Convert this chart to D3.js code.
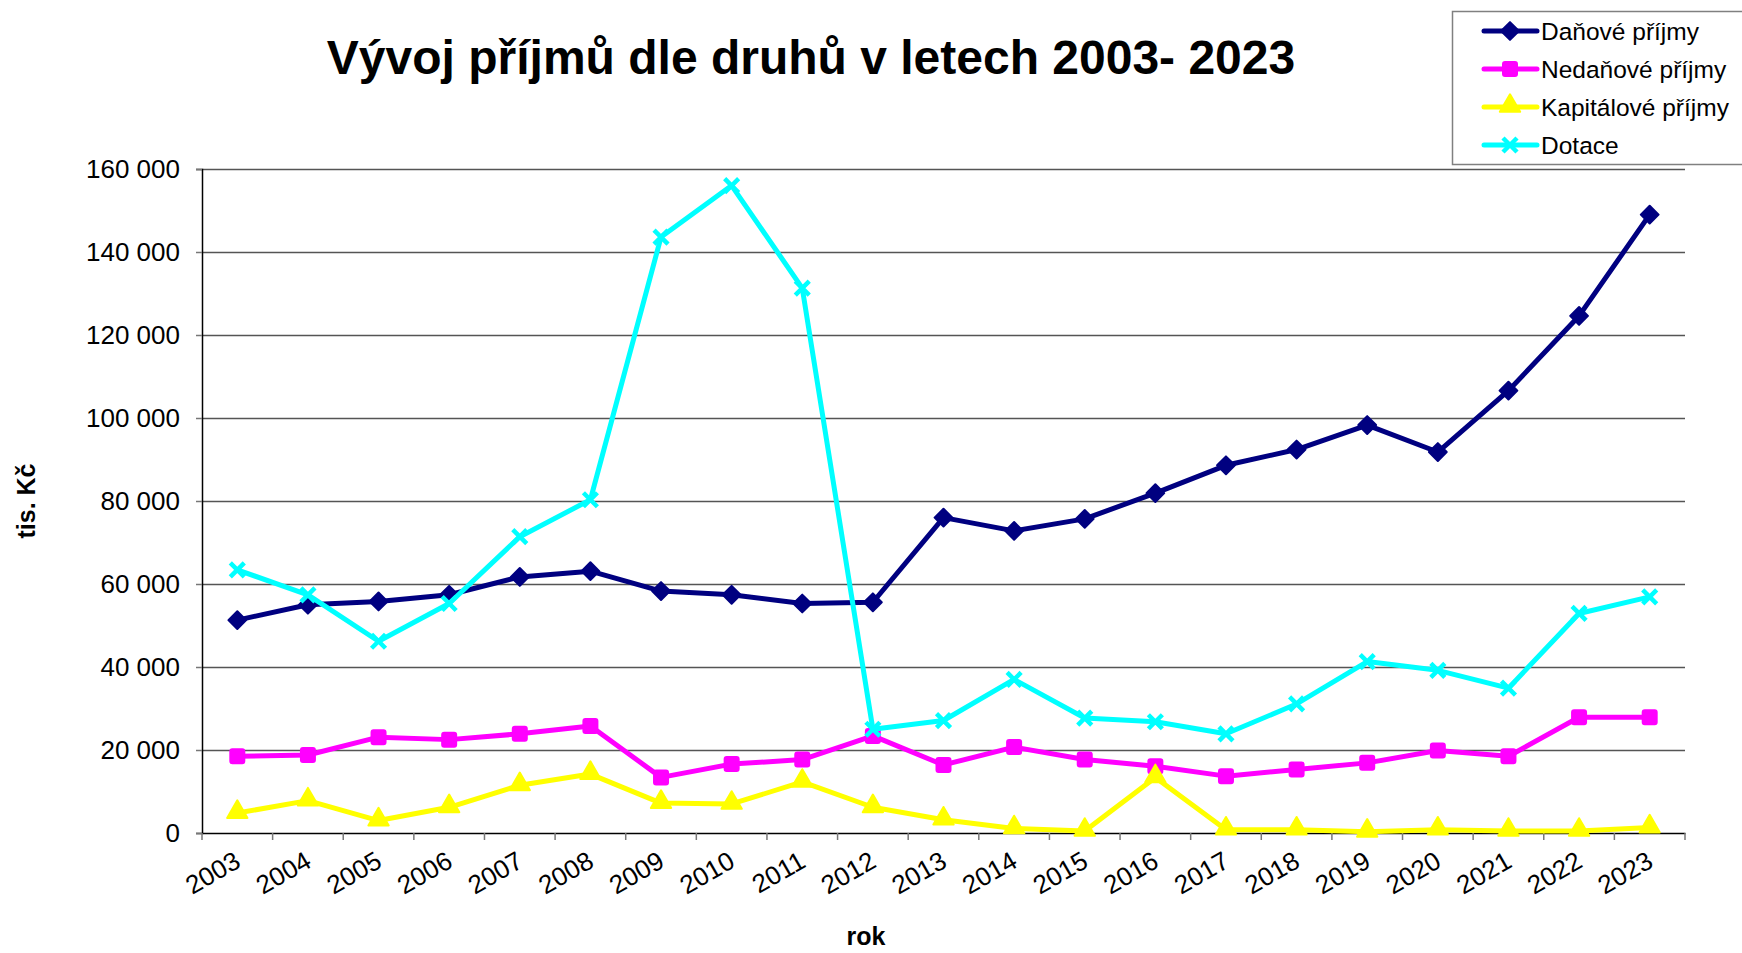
<!DOCTYPE html>
<html>
<head>
<meta charset="utf-8">
<script src="https://cdn.jsdelivr.net/npm/d3@7"></script>
<style>
  body { margin: 0; background: #fff; }
  text { font-family: "Liberation Sans", Arial, sans-serif; }
</style>
</head>
<body>
<div id="chart"></div>
<script>
// data (tis. Kč)
var roky = ["2003","2004","2005","2006","2007","2008","2009","2010","2011","2012","2013",
            "2014","2015","2016","2017","2018","2019","2020","2021","2022","2023"];
var danove    = [51300,55000,55800,57400,61700,63100,58300,57400,55300,55600,76000,
                 72800,75700,81900,88600,92400,98300,91800,106600,124600,149000];
var nedanove  = [18500,18800,23100,22500,23900,25800,13400,16600,17700,23400,16400,
                 20700,17700,16100,13700,15300,16900,19900,18500,27900,27900];
var kapitalove= [4800,7800,3000,6200,11500,14200,7200,7000,12300,6200,3200,
                 1100,500,13400,800,800,300,800,500,500,1300];
var dotace    = [63400,57400,46200,55300,71400,80300,143600,156000,131300,25000,27100,
                 37000,27700,26800,23900,31100,41300,39200,34900,52900,56900];
var yTicks = [0,20000,40000,60000,80000,100000,120000,140000,160000];

var serie = [
  {name: "Daňové příjmy", values: danove, color: "#000080", marker: "diamond"},
  {name: "Nedaňové příjmy", values: nedanove, color: "#ff00ff", marker: "square"},
  {name: "Kapitálové příjmy", values: kapitalove, color: "#ffff00", marker: "triangle"},
  {name: "Dotace", values: dotace, color: "#00ffff", marker: "cross"}
];

var W = 1742, H = 953;
var pLeft = 202, pRight = 1685, pTop = 169, pBottom = 833;

var svg = d3.select("#chart").append("svg")
    .attr("width", W).attr("height", H);

var x = d3.scaleBand().domain(roky).range([pLeft, pRight]);
var y = d3.scaleLinear().domain([0, 160000]).range([pBottom, pTop]);

var fmt = function(d) { return d3.format(",")(d).replace(/,/g, " "); };

// gridlines
svg.append("g").selectAll("line")
    .data(yTicks.slice(1))
    .enter().append("line")
    .attr("x1", pLeft).attr("x2", pRight)
    .attr("y1", function(d){ return y(d) + 0.5; })
    .attr("y2", function(d){ return y(d) + 0.5; })
    .attr("stroke", "#555").attr("stroke-width", 1.3);

// y axis
var yAxis = svg.append("g")
    .attr("transform", "translate(" + pLeft + ",0)")
    .call(d3.axisLeft(y).tickValues(yTicks).tickFormat(fmt).tickSize(6).tickPadding(16));
yAxis.selectAll("text").attr("font-size", "26px").attr("fill", "#000")
    .style("font-family", "Liberation Sans, Arial, sans-serif");
yAxis.select(".domain").attr("stroke", "#000").attr("stroke-width", 1.5);
yAxis.selectAll(".tick line").attr("stroke", "#777").attr("stroke-width", 1.5);

// x axis
var xAxis = svg.append("g")
    .attr("transform", "translate(0," + pBottom + ")")
    .call(d3.axisBottom(x).tickSize(0).tickFormat(""));
xAxis.select(".domain").attr("stroke", "#000").attr("stroke-width", 1.5);
xAxis.selectAll(".tick").remove();

var bounds = roky.map(function(d){ return x(d); }).concat([pRight]);
svg.append("g").selectAll("line")
    .data(bounds)
    .enter().append("line")
    .attr("x1", function(d){ return d; }).attr("x2", function(d){ return d; })
    .attr("y1", pBottom).attr("y2", pBottom + 7)
    .attr("stroke", "#777").attr("stroke-width", 1.5);

svg.append("g").selectAll("text")
    .data(roky)
    .enter().append("text")
    .attr("text-anchor", "end")
    .attr("font-size", "26px")
    .attr("transform", function(d){
        var cx = x(d) + x.bandwidth() / 2 + 5;
        return "translate(" + cx + "," + (pBottom + 33) + ") rotate(-30)";
    })
    .text(function(d){ return d; });

// lines
var line = d3.line()
    .x(function(d, i){ return x(roky[i]) + x.bandwidth() / 2; })
    .y(function(d){ return y(d); });

function drawMarker(g, type, color, cx, cy, s) {
    if (type === "diamond") {
        g.append("path")
          .attr("d", d3.symbol().type(d3.symbolSquare).size(s * s * 0.62)())
          .attr("transform", "translate(" + cx + "," + cy + ") rotate(45)")
          .attr("fill", color).attr("stroke", color).attr("stroke-width", 2).attr("stroke-linejoin", "round");
    } else if (type === "square") {
        g.append("rect")
          .attr("x", cx - s / 2 + 1).attr("y", cy - s / 2 + 1)
          .attr("width", s - 2).attr("height", s - 2).attr("rx", 2)
          .attr("fill", color).attr("stroke", color).attr("stroke-width", 2);
    } else if (type === "triangle") {
        g.append("path")
          .attr("d", d3.symbol().type(d3.symbolTriangle).size(s * s * 0.7)())
          .attr("transform", "translate(" + cx + "," + (cy - 1) + ")")
          .attr("fill", color).attr("stroke", color).attr("stroke-width", 2).attr("stroke-linejoin", "round");
    } else {
        var r = s / 2 - 1;
        g.append("path")
          .attr("d", "M" + (cx - r) + "," + (cy - r) + "L" + (cx + r) + "," + (cy + r) +
                     "M" + (cx - r) + "," + (cy + r) + "L" + (cx + r) + "," + (cy - r))
          .attr("stroke", color).attr("stroke-width", 4.5).attr("fill", "none");
    }
}

serie.forEach(function(s) {
    var g = svg.append("g");
    g.append("path")
      .datum(s.values)
      .attr("d", line)
      .attr("fill", "none")
      .attr("stroke", s.color)
      .attr("stroke-width", 5)
      .attr("stroke-linejoin", "round");
    s.values.forEach(function(v, i) {
        drawMarker(g, s.marker, s.color, x(roky[i]) + x.bandwidth() / 2, y(v), 16);
    });
});

// title
svg.append("text")
    .attr("x", 811).attr("y", 74)
    .attr("text-anchor", "middle")
    .attr("font-size", "48px").attr("font-weight", "bold")
    .text("Vývoj příjmů dle druhů v letech 2003- 2023");

// axis titles
svg.append("text")
    .attr("x", 866).attr("y", 945)
    .attr("text-anchor", "middle")
    .attr("font-size", "25px").attr("font-weight", "bold")
    .text("rok");

svg.append("text")
    .attr("transform", "translate(35," + ((pTop + pBottom) / 2) + ") rotate(-90)")
    .attr("text-anchor", "middle")
    .attr("font-size", "25px").attr("font-weight", "bold")
    .text("tis. Kč");

// legend
var lg = svg.append("g");
lg.append("rect")
    .attr("x", 1452.5).attr("y", 11.5).attr("width", 320).attr("height", 153)
    .attr("fill", "#fff").attr("stroke", "#808080").attr("stroke-width", 1.5);

serie.forEach(function(s, i) {
    var ly = 31 + i * 38;
    lg.append("line")
      .attr("x1", 1484).attr("x2", 1537).attr("y1", ly).attr("y2", ly)
      .attr("stroke", s.color).attr("stroke-width", 5).attr("stroke-linecap", "round");
    drawMarker(lg, s.marker, s.color, 1510, ly, 16);
    lg.append("text")
      .attr("x", 1541).attr("y", ly + 9)
      .attr("font-size", "24.5px")
      .text(s.name);
});
</script>
</body>
</html>
